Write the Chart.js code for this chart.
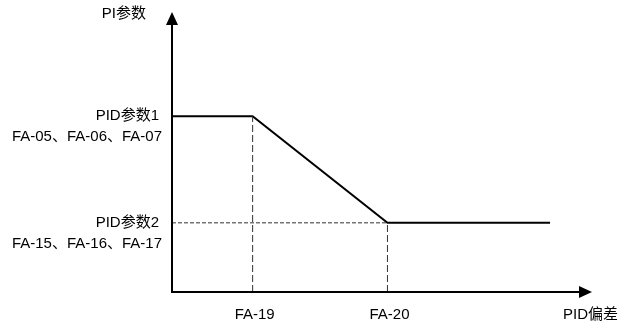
<!DOCTYPE html>
<html>
<head>
<meta charset="utf-8">
<script src="https://cdn.jsdelivr.net/npm/chart.js@4"></script>
<style>
  html, body { margin: 0; padding: 0; background: #fff; }
  #wrap { width: 622px; height: 321px; position: relative; }
</style>
</head>
<body>
<div id="wrap"><canvas id="pidChart"></canvas></div>
<script>
// curve: PID deviation (x) vs PI parameter (y), axis units 0..10
const devX = [0, 1.92, 5.13, 9.0];
const paramY = [6.28, 6.28, 2.47, 2.47];

// x tick marks (deviation thresholds) and their labels
const xTicks = [1.92, 5.13];
const xTickLabels = ["FA-19", "FA-20"];

// y levels and their two-line labels
const yLevels = [6.28, 2.47];
const yLevelLabels = [
    ["PID参数1", "FA-05、FA-06、FA-07"],
    ["PID参数2", "FA-15、FA-16、FA-17"]
];

const xAxisTitle = "PID偏差";
const yAxisTitle = "PI参数";
const axisMax = 10;

const FONT = "15px 'Liberation Sans', Arial, 'Noto Sans CJK SC', sans-serif";

document.addEventListener("DOMContentLoaded", function () {
    const curve = devX.map((x, i) => ({ x: x, y: paramY[i] }));

    const guideStyle = { borderColor: "#333", borderWidth: 1, pointRadius: 0, showLine: true, fill: false };
    const guides = [
        Object.assign({ data: [{ x: xTicks[0], y: 0 }, { x: xTicks[0], y: yLevels[0] }], borderDash: [7, 3] }, guideStyle),
        Object.assign({ data: [{ x: xTicks[1], y: 0 }, { x: xTicks[1], y: yLevels[1] }], borderDash: [7, 3] }, guideStyle),
        Object.assign({ data: [{ x: 0, y: yLevels[1] }, { x: xTicks[1], y: yLevels[1] }], borderDash: [4, 2] }, guideStyle)
    ];

    const axesPlugin = {
        id: "axesArrows",
        afterDatasetsDraw(chart) {
            const ctx = chart.ctx;
            const xs = chart.scales.x, ys = chart.scales.y;
            const x0 = xs.getPixelForValue(0), y0 = ys.getPixelForValue(0);
            const xEnd = xs.getPixelForValue(axisMax), yEnd = ys.getPixelForValue(axisMax);
            ctx.save();
            ctx.strokeStyle = "#000";
            ctx.fillStyle = "#000";
            ctx.lineWidth = 2;
            ctx.beginPath();
            ctx.moveTo(x0, y0);
            ctx.lineTo(xEnd - 10, y0);
            ctx.moveTo(x0, y0 + 1);
            ctx.lineTo(x0, yEnd + 10);
            ctx.stroke();
            // arrow heads
            ctx.beginPath();
            ctx.moveTo(xEnd, y0);
            ctx.lineTo(xEnd - 13, y0 - 6);
            ctx.lineTo(xEnd - 13, y0 + 6);
            ctx.closePath();
            ctx.fill();
            ctx.beginPath();
            ctx.moveTo(x0, yEnd);
            ctx.lineTo(x0 - 6, yEnd + 13);
            ctx.lineTo(x0 + 6, yEnd + 13);
            ctx.closePath();
            ctx.fill();

            // text
            ctx.font = FONT;
            ctx.textBaseline = "middle";
            ctx.textAlign = "right";
            ctx.fillText(yAxisTitle, x0 - 26, yEnd + 2);
            yLevels.forEach((v, i) => {
                const py = ys.getPixelForValue(v);
                ctx.fillText(yLevelLabels[i][0], x0 - 13, py);
                ctx.fillText(yLevelLabels[i][1], x0 - 10, py + 21);
            });
            ctx.textAlign = "center";
            xTicks.forEach((v, i) => {
                ctx.fillText(xTickLabels[i], xs.getPixelForValue(v) + 2, y0 + 23);
            });
            ctx.textAlign = "left";
            ctx.fillText(xAxisTitle, xEnd - 29, y0 + 23);
            ctx.restore();
        }
    };

    new Chart(document.getElementById("pidChart"), {
        type: "scatter",
        data: {
            datasets: guides.concat([{
                data: curve,
                showLine: true,
                borderColor: "#000",
                borderWidth: 2,
                pointRadius: 0,
                tension: 0,
                fill: false
            }])
        },
        options: {
            responsive: true,
            maintainAspectRatio: false,
            animation: false,
            layout: { padding: { left: 172, right: 30, top: 12, bottom: 29 } },
            plugins: { legend: { display: false }, tooltip: { enabled: false } },
            scales: {
                x: { type: "linear", min: 0, max: axisMax, display: false },
                y: { type: "linear", min: 0, max: axisMax, display: false }
            }
        },
        plugins: [axesPlugin]
    });
});
</script>
</body>
</html>
